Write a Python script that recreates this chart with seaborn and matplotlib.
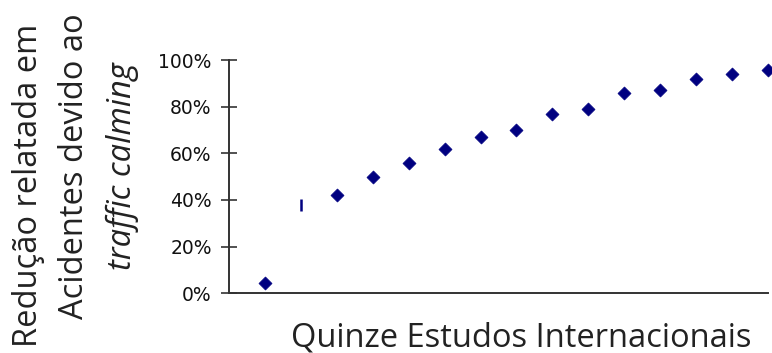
import matplotlib
matplotlib.use("Agg")
import matplotlib.pyplot as plt
import seaborn as sns
import pandas as pd
from matplotlib.ticker import PercentFormatter

# ---- data ----
estudos = list(range(1, 16))
reducao = [0.045, 0.38, 0.42, 0.50, 0.56, 0.62, 0.67, 0.70, 0.77, 0.79, 0.86, 0.87, 0.92, 0.94, 0.955]
marcador = ["D", "|", "D", "D", "D", "D", "D", "D", "D", "D", "D", "D", "D", "D", "D"]
y_ticks = [0.0, 0.2, 0.4, 0.6, 0.8, 1.0]

ylabel_lines = ["Redução relatada em", "Acidentes devido ao", "traffic calming"]
xlabel = "Quinze Estudos Internacionais"

sns.set_style("white")
plt.rcParams["font.family"] = ["DejaVu Sans"]

df = pd.DataFrame({"estudo": estudos, "reducao": reducao, "marcador": marcador})

fig = plt.figure(figsize=(7.72, 3.53), dpi=100)
ax = fig.add_axes([229 / 772, 1 - 293.3 / 353, (768 - 229) / 772, (293.3 - 60) / 353])

navy = "#000080"
sns.scatterplot(data=df[df["marcador"] == "D"], x="estudo", y="reducao", marker="D",
                s=44, color=navy, edgecolor=navy, linewidth=0.5, ax=ax, clip_on=False, zorder=3)
sns.scatterplot(data=df[df["marcador"] == "|"], x="estudo", y="reducao", marker="|",
                s=70, color=navy, linewidth=1.8, ax=ax, clip_on=False, zorder=3)

ax.set_xlim(0, 15)
ax.set_ylim(0, 1)
ax.set_yticks(y_ticks)
ax.yaxis.set_major_formatter(PercentFormatter(1.0, decimals=0))
ax.set_xticks([])
ax.set_xlabel("")
ax.set_ylabel("")

for side in ["top", "right"]:
    ax.spines[side].set_visible(False)
for side in ["left", "bottom"]:
    ax.spines[side].set_color("#333333")
    ax.spines[side].set_linewidth(1.4)

ax.tick_params(axis="y", direction="inout", length=11, width=1.2, color="#333333",
               pad=7, labelsize=13.5, labelcolor="#111111", left=True)

# y label (three rotated lines)
txt_kw = dict(rotation=90, ha="center", va="center", fontsize=23.5,
              color="#222222", family=["Open Sans", "DejaVu Sans"])
fig.text(29 / 772, 1 - 185 / 353, ylabel_lines[0], **txt_kw)
fig.text(75 / 772, 1 - 166 / 353, ylabel_lines[1], **txt_kw)
fig.text(122 / 772, 1 - 166 / 353, ylabel_lines[2], style="italic", **txt_kw)

# x label
fig.text(521 / 772, 1 - 346 / 353, xlabel, ha="center", va="baseline", fontsize=23.5,
         color="#222222", family=["Open Sans", "DejaVu Sans"])

fig.savefig("out.png", dpi=100)
